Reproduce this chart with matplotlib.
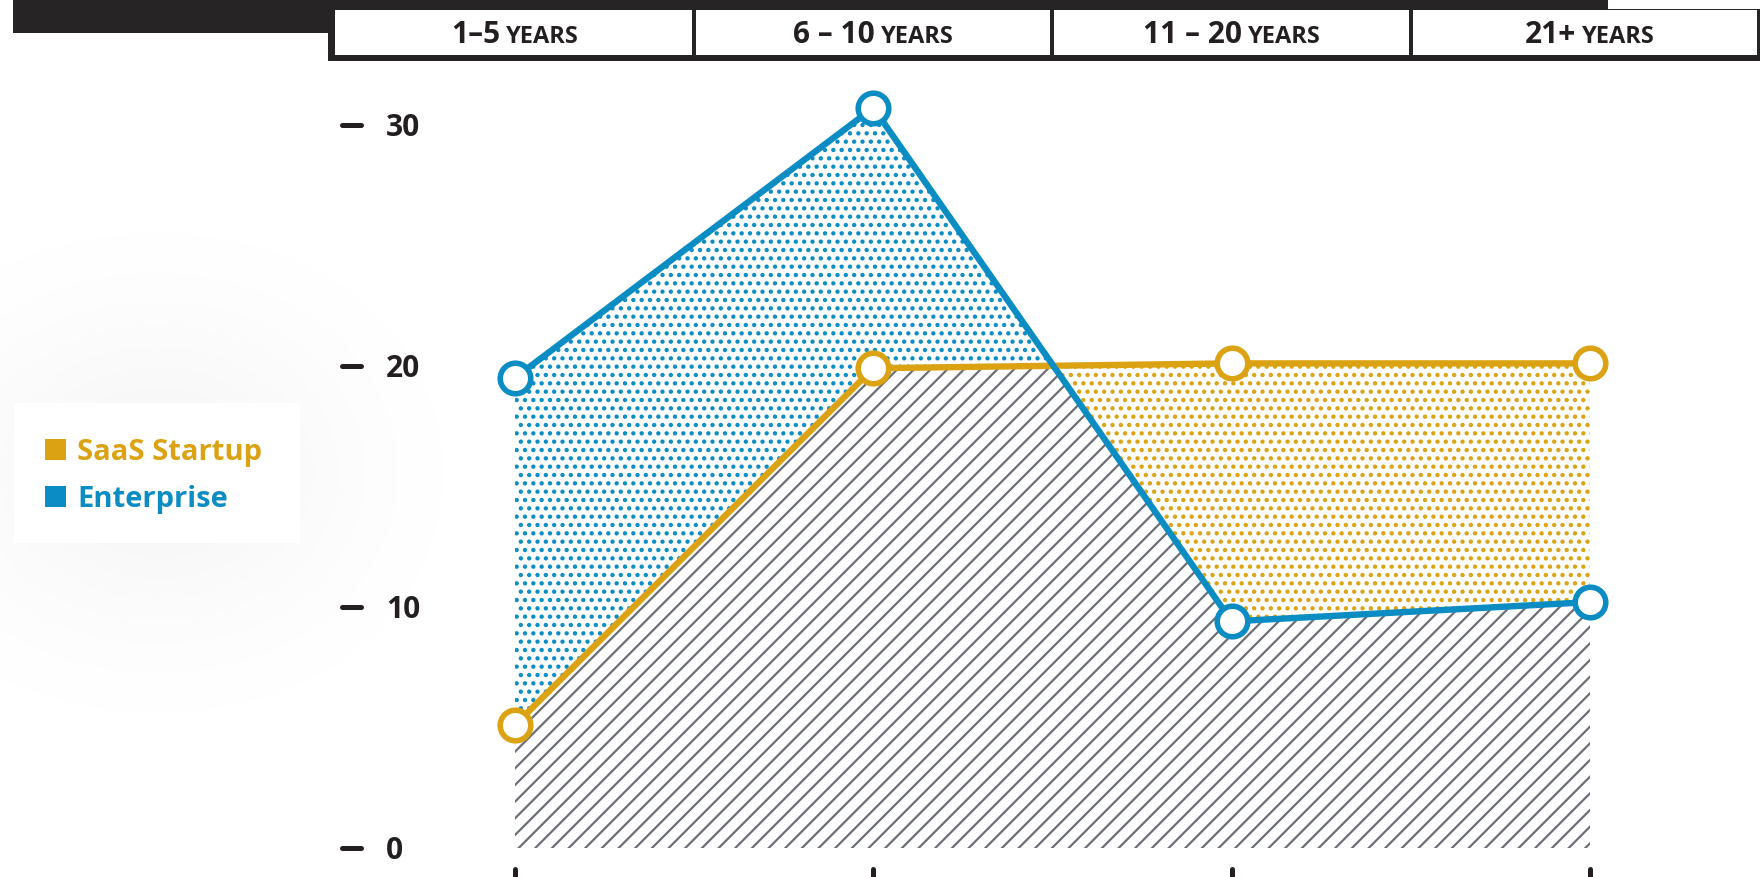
import math

import numpy as np
import matplotlib.pyplot as plt
from matplotlib.patches import Rectangle
from matplotlib.transforms import blended_transform_factory, offset_copy

plt.rcParams['font.family'] = ['Open Sans', 'DejaVu Sans']
plt.rcParams['font.weight'] = 'bold'
plt.rcParams['hatch.linewidth'] = 1.6

# tenure buckets and share of respondents (%)
stages = ['1–5', '6 – 10', '11 – 20', '21+']
stage_unit = 'YEARS'
saas = [5.1, 19.9, 20.1, 20.1]
enterprise = [19.5, 30.7, 9.4, 10.2]
yticks = [0, 10, 20, 30]
series_names = ['SaaS Startup', 'Enterprise']

ORANGE = '#dba313'
BLUE = '#0b8dc3'
INK = '#231f20'
HATCH = '#6c6f76'

W, H = 1760, 877
fig = plt.figure(figsize=(W / 100, H / 100), dpi=100)

# page layer, pixel units with the origin at the top-left
bg = fig.add_axes([0, 0, 1, 1], zorder=0)
bg.axis('off')

# chart layer
ax = fig.add_axes([0, 0, 1, 1], zorder=1)
ax.patch.set_alpha(0)
ax.axis('off')
step = 358.33
unit_px = 24.11
ax.set_xlim(-515 / step, (W - 515) / step)
ax.set_ylim(-(H - 848) / unit_px, 848 / unit_px)

# soft shadow round the legend card
box = (14, 403, 300, 543)
xs = np.arange(W) + 0.5
ys = np.arange(H) + 0.5
erf = np.vectorize(math.erf)
s = 150
gx = 0.5 * (erf((xs - box[0]) / s) - erf((xs - box[2]) / s))
gy = 0.5 * (erf((ys - box[1]) / s) - erf((ys - box[3]) / s))
haze = np.zeros((H, W, 4))
haze[..., 3] = 0.09 * np.outer(gy, gx)
bg.imshow(haze, extent=(0, W, H, 0), interpolation='bilinear', aspect='auto', zorder=0)
bg.set_xlim(0, W)
bg.set_ylim(H, 0)

bg.add_patch(Rectangle((box[0], box[1]), box[2] - box[0], box[3] - box[1],
                       facecolor='white', edgecolor='none', zorder=2))
for name, color, base in zip(series_names, [ORANGE, BLUE], [460, 507]):
    bg.add_patch(Rectangle((45, base - 21), 21, 21, facecolor=color, edgecolor='none', zorder=3))
    bg.text(77, base, name, color=color, fontsize=21, va='baseline', ha='left', zorder=3)

# header strip
bg.add_patch(Rectangle((13, 0), 1595, 10, facecolor='#262425', edgecolor='none', zorder=2))
bg.add_patch(Rectangle((13, 0), 320, 33, facecolor='#262425', edgecolor='none', zorder=2))
bg.add_patch(Rectangle((328, 9), W - 328, 52, facecolor='#262425', edgecolor='none', zorder=3))
x = np.arange(len(stages))
bounds = np.append(x - 0.5, x[-1] + 0.5)
bpx = ax.transData.transform(np.column_stack([bounds, np.zeros_like(bounds)]))[:, 0]
bpx[0] = 328
bpx[-1] = W
for i in range(len(stages)):
    left = bpx[i] + (7 if i == 0 else 2)
    right = bpx[i + 1] - (3 if i == len(stages) - 1 else 2)
    bg.add_patch(Rectangle((left, 10), right - left, 45, facecolor='white',
                           edgecolor='none', zorder=4))

renderer = fig.canvas.get_renderer()
cx = ax.transData.transform(np.column_stack([x, np.zeros_like(x)]))[:, 0]
for c, label in zip(cx, stages):
    t1 = bg.text(0, 43, label, fontsize=21.5, color=INK, va='baseline', ha='left', zorder=5)
    t2 = bg.text(0, 43, stage_unit, fontsize=17, color=INK, va='baseline', ha='left', zorder=5)
    w1 = t1.get_window_extent(renderer).width
    w2 = t2.get_window_extent(renderer).width
    gap = 6
    start = c - (w1 + gap + w2) / 2
    t1.set_x(start)
    t2.set_x(start + w1 + gap)

# y axis: short dashes with labels
ty = blended_transform_factory(bg.transData, ax.transData)
for v in yticks:
    ax.plot([342, 361], [v, v], transform=ty, color=INK, lw=3.6,
            solid_capstyle='round', clip_on=False)
    ax.text(386, v, str(v), transform=offset_copy(ty, fig=fig, y=-11, units='dots'),
            fontsize=21.5, color=INK, va='baseline', ha='left')

# x axis ticks at the bottom edge
tx = blended_transform_factory(ax.transData, bg.transData)
for xi in x:
    ax.plot([xi, xi], [869, 895], transform=tx, color=INK, lw=3.6,
            solid_capstyle='round', clip_on=False)

s_arr = np.array(saas)
e_arr = np.array(enterprise)
ax.fill_between(x, 0, s_arr, facecolor='white', edgecolor=HATCH, hatch='//',
                linewidth=0, zorder=1)
with plt.rc_context({'hatch.linewidth': 1.9}):
    ax.fill_between(x, s_arr, e_arr, where=e_arr >= s_arr, interpolate=True,
                    facecolor='white', edgecolor=BLUE, hatch='..', linewidth=0, zorder=2)
    ax.fill_between(x, s_arr, e_arr, where=s_arr >= e_arr, interpolate=True,
                    facecolor='white', edgecolor=ORANGE, hatch='..', linewidth=0, zorder=2)

ax.plot(x, saas, color=ORANGE, lw=4.6, marker='o', ms=22, mfc='white',
        mec=ORANGE, mew=4.0, zorder=3, clip_on=False)
ax.plot(x, enterprise, color=BLUE, lw=4.6, marker='o', ms=22, mfc='white',
        mec=BLUE, mew=4.0, zorder=4, clip_on=False)

fig.savefig('out.png', dpi=100)
